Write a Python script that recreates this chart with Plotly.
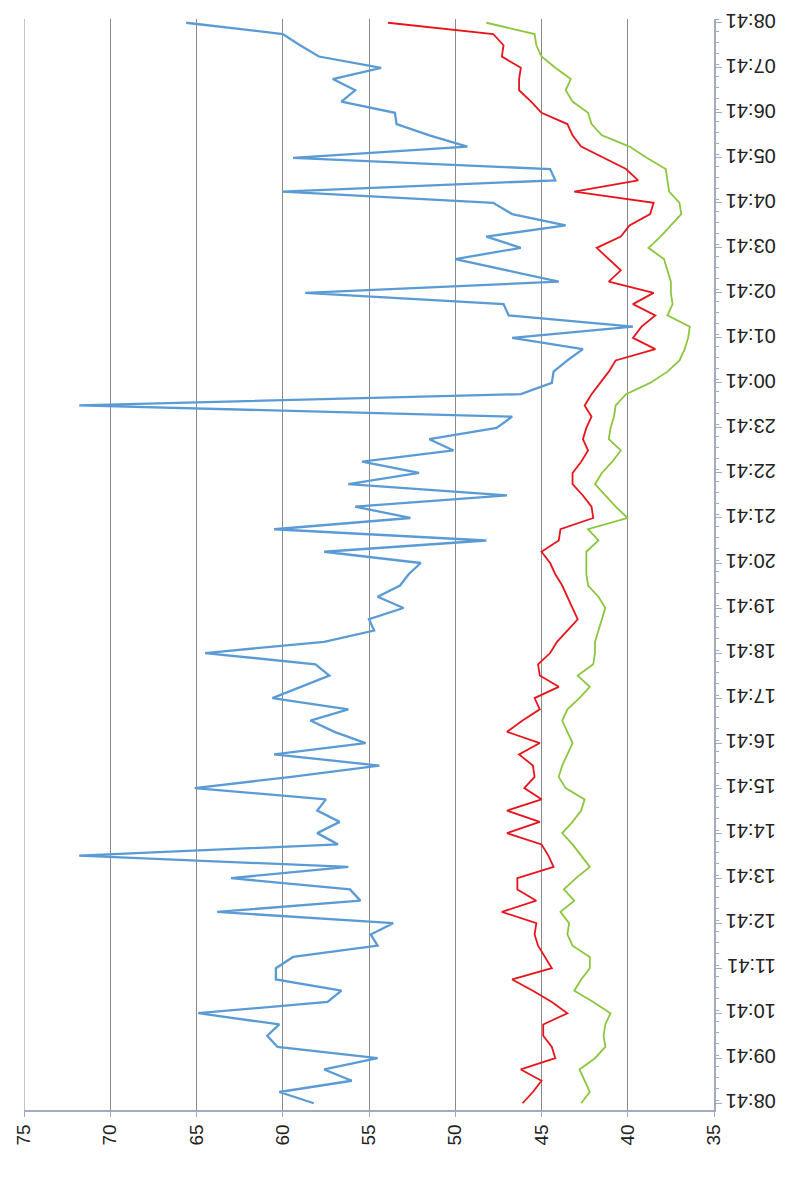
import pandas as pd
import plotly.graph_objects as go

# 15-minute readings from 08:41 to 08:41 the next day
times = pd.date_range("2013-01-01 08:41", periods=97, freq="15min")

blue = [58.2, 60.2, 56.0, 57.6,
        54.5, 60.3, 60.9, 60.2,
        64.9, 57.4, 56.6, 60.4,
        60.4, 59.4, 54.5, 54.9,
        53.6, 63.8, 55.5, 56.1,
        63.0, 56.2, 71.8, 56.8,
        58.0, 56.7, 58.0, 57.5,
        65.1, 59.5, 54.4, 60.5,
        55.2, 57.0, 58.4, 56.2,
        60.6, 59.0, 57.3, 58.1,
        64.5, 57.6, 54.7, 55.0,
        53.0, 54.5, 53.2, 52.7,
        52.0, 57.6, 48.2, 60.5,
        52.6, 55.8, 47.0, 56.2,
        52.1, 55.4, 50.1, 51.5,
        47.6, 46.7, 71.8, 46.2,
        44.4, 44.3, 43.5, 42.6,
        46.7, 39.7, 46.9, 47.2,
        58.7, 44.0, 46.9, 50.0,
        46.2, 48.2, 43.6, 46.7,
        47.8, 60.0, 44.2, 44.5,
        59.4, 49.3, 51.5, 53.4,
        53.5, 56.6, 55.8, 57.1,
        54.3, 57.9, 59.0, 60.0,
        65.6]

red = [46.1, 45.5, 45.0, 46.2,
       44.2, 44.4, 44.9, 44.9,
       43.5, 44.4, 45.5, 46.7,
       44.4, 44.8, 45.2, 45.4,
       45.3, 47.3, 45.3, 46.4,
       46.4, 44.3, 44.6, 45.0,
       47.0, 45.1, 47.0, 45.0,
       46.0, 45.4, 45.5, 46.3,
       45.1, 47.0, 46.1, 45.1,
       45.4, 44.0, 45.1, 45.2,
       44.5, 44.1, 43.5, 42.9,
       43.2, 43.5, 43.8, 44.2,
       44.5, 45.0, 44.0, 43.9,
       42.0, 42.1, 42.6, 43.2,
       43.2, 42.7, 42.3, 42.6,
       42.4, 42.1, 42.5, 42.1,
       41.6, 41.1, 40.7, 38.4,
       39.7, 39.2, 38.4, 39.7,
       38.5, 41.1, 40.4, 41.1,
       41.8, 40.4, 39.9, 38.7,
       38.5, 43.1, 39.4, 40.1,
       41.4, 42.7, 43.2, 43.5,
       45.0, 45.6, 46.3, 46.3,
       46.2, 47.3, 47.2, 47.8,
       53.9]

green = [42.7, 42.2, 42.5, 42.8,
         41.9, 41.3, 41.4, 41.3,
         41.0, 42.0, 43.1, 42.7,
         42.2, 42.2, 43.2, 43.5,
         43.4, 43.9, 43.1, 43.7,
         43.0, 42.2, 42.7, 43.2,
         43.8, 43.2, 42.7, 42.5,
         43.6, 44.0, 43.8, 43.5,
         43.2, 43.5, 43.8, 43.5,
         42.8, 42.2, 42.9, 42.0,
         41.9, 41.9, 41.7, 41.5,
         41.3, 41.7, 42.3, 42.4,
         42.4, 42.4, 41.7, 42.3,
         40.0, 40.7, 41.3, 41.9,
         41.5, 40.9, 40.4, 41.1,
         41.0, 40.8, 40.7, 40.1,
         38.7, 37.7, 37.0, 36.7,
         36.5, 36.4, 37.7, 37.4,
         37.5, 37.5, 37.7, 37.9,
         38.8, 38.1, 37.5, 36.9,
         37.0, 37.6, 37.7, 37.8,
         38.9, 39.9, 41.5, 42.1,
         42.3, 43.2, 43.6, 43.3,
         44.2, 45.0, 45.3, 45.4,
         48.2]

value_ticks = [35, 40, 45, 50, 55, 60, 65, 70, 75]

fig = go.Figure()
fig.add_trace(go.Scatter(x=blue, y=times, mode="lines",
                         line=dict(color="#5b9bd5", width=2.3)))
fig.add_trace(go.Scatter(x=red, y=times, mode="lines",
                         line=dict(color="#e8141c", width=1.8)))
fig.add_trace(go.Scatter(x=green, y=times, mode="lines",
                         line=dict(color="#8cc63f", width=1.8)))

axis_col = "#9fabc0"
t0 = times[0]
t1 = times[-1]
fig.update_layout(
    width=779, height=1172,
    margin=dict(l=16, r=73, t=11, b=70, autoexpand=False),
    paper_bgcolor="white", plot_bgcolor="white",
    showlegend=False,
    xaxis=dict(
        range=[75, 35], tickvals=value_ticks, tickangle=-90,
        showgrid=True, gridcolor="#8a8a8a", gridwidth=1,
        showline=True, linecolor=axis_col, linewidth=1.5,
        ticks="outside", ticklen=5, tickcolor=axis_col,
        zeroline=False,
        tickfont=dict(family="Liberation Sans", size=19, color="#222222"),
    ),
    yaxis=dict(
        type="date", side="right",
        range=[t0 - pd.Timedelta(minutes=9), t1 + pd.Timedelta(minutes=5)],
        tick0=t0, dtick=3600000, tickformat="%H:%M", tickangle=180,
        ticklabelstandoff=50, ticklabelshift=4, ticklabeloverflow="allow",
        showgrid=False, showline=True, linecolor=axis_col, linewidth=1.5,
        ticks="outside", ticklen=6, tickcolor=axis_col,
        minor=dict(dtick=900000, ticks="outside", ticklen=3, tickcolor=axis_col, showgrid=False),
        zeroline=False,
        tickfont=dict(family="Liberation Sans", size=20, color="#222222"),
    ),
    shapes=[dict(type="line", xref="x", yref="paper", x0=75, x1=75, y0=0, y1=1,
                 line=dict(color="#8a8a8a", width=1))],
)

fig.write_html("out.html")
